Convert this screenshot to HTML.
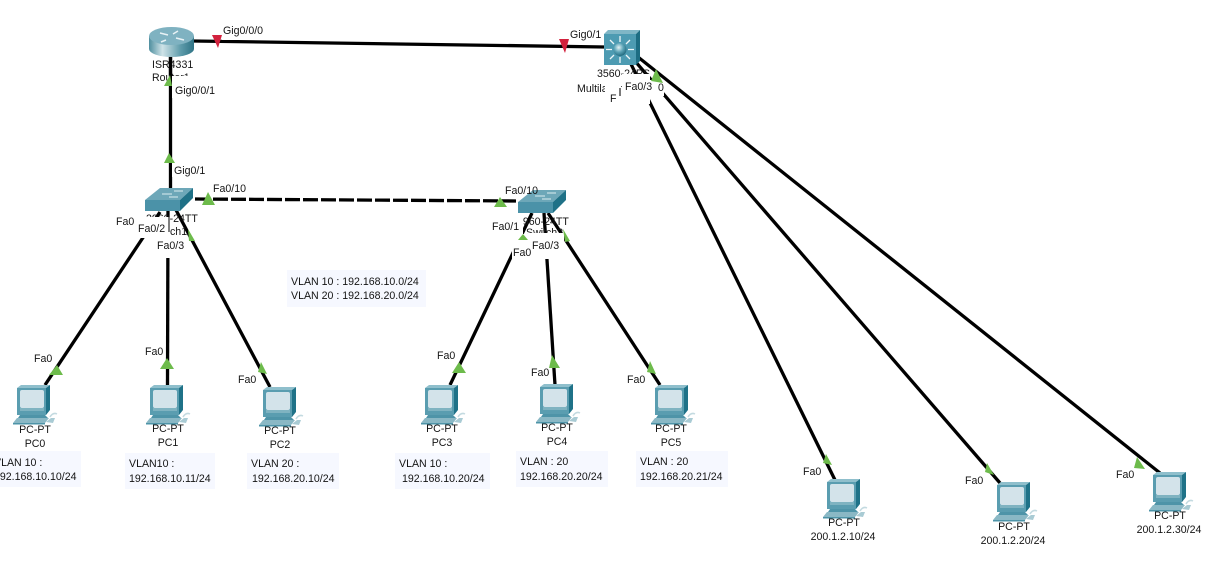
<!DOCTYPE html>
<html>
<head>
<meta charset="utf-8">
<style>
html,body{margin:0;padding:0;background:#fff;}
body{width:1221px;height:588px;overflow:hidden;}
svg{display:block;}
text{font-family:"Liberation Sans",Arial,sans-serif;font-size:10.6px;fill:#141414;}
.m{text-anchor:middle;}
.c{stroke:#000;stroke-width:3.3;fill:none;}
.g{fill:#6dbb4b;}
.r{fill:#d2213d;}
.w{fill:#fff;}
.n{fill:#f6f8ff;}
</style>
</head>
<body>
<svg width="1221" height="588" viewBox="0 0 1221 588" xmlns="http://www.w3.org/2000/svg">
<defs>
<linearGradient id="rg" x1="0" x2="1" y1="0" y2="0">
<stop offset="0" stop-color="#4f8f9f"/><stop offset=".3" stop-color="#cfe3e8"/><stop offset=".7" stop-color="#5f9cab"/><stop offset="1" stop-color="#2f7486"/>
</linearGradient>
<radialGradient id="bg" cx=".4" cy=".35" r=".7">
<stop offset="0" stop-color="#e4f2f5"/><stop offset=".5" stop-color="#5da5b8"/><stop offset="1" stop-color="#1c6479"/>
</radialGradient>
<g id="pc">
<polygon points="0,3 29,3 29,30 0,30" fill="#5a9db0"/>
<polygon points="0,3 4,0 33,0 29,3" fill="#8fbfcc"/>
<polygon points="29,3 33,0 33,25 29,30" fill="#1f7288"/>
<rect x="3" y="5" width="24" height="18" rx="2" fill="#d3e3ea"/>
<rect x="3" y="23" width="24" height="3" fill="#7fb3c1"/>
<polygon points="3,30 28,30 31,33 1,33" fill="#4e94a8"/>
<polygon points="0,33 32,33 28,38 -4,38" fill="#8ab8c5"/>
<rect x="-4" y="38" width="32" height="1.5" fill="#4e94a8"/>
<polygon points="29,37 34,33 38,33 36,38" fill="#a9cbd4"/>
<path d="M33 32 q3,-5 7,-3" stroke="#c3dae0" stroke-width="1.5" fill="none"/>
</g>
<g id="sw">
<polygon points="0,13 15,1 48,1 35,13" fill="#6da7b8"/>
<path d="M17 7h10M29 4h9M24 10h9" stroke="#dcecf0" stroke-width="1"/>
<rect x="0" y="13" width="35" height="11" fill="#4b92a8"/>
<polygon points="35,13 48,1 48,11 35,24" fill="#1f7187"/>
</g>
</defs>

<!-- connectors -->
<line class="c" x1="193" y1="41" x2="605" y2="47"/>
<line class="c" x1="170.500" y1="55" x2="170.500" y2="190"/>
<line class="c" x1="195" y1="199" x2="518" y2="201" stroke-dasharray="15 3"/>
<line class="c" x1="160" y1="212" x2="45" y2="385"/>
<line class="c" x1="168" y1="208" x2="167.500" y2="385"/>
<line class="c" x1="176" y1="210" x2="270" y2="387"/>
<line class="c" x1="532" y1="213" x2="450" y2="385"/>
<line class="c" x1="544" y1="213" x2="555" y2="385"/>
<line class="c" x1="548" y1="213" x2="660" y2="385"/>
<line class="c" x1="630" y1="62" x2="835" y2="480"/>
<line class="c" x1="634" y1="60" x2="1000" y2="483"/>
<line class="c" x1="638" y1="57" x2="1160" y2="473"/>

<!-- device labels underneath the white label boxes -->
<text x="152" y="68">ISR4331</text>
<text x="152" y="81">Router1</text>
<text x="597" y="77">3560-24PS</text>
<text x="577" y="92">Multilayer Switch0</text>
<text x="146" y="222">2960-24TT</text>
<text x="150" y="235">Switch1</text>
<text x="517" y="225">2960-24TT</text>
<text x="526" y="236">Switch2</text>

<!-- white label boxes -->
<rect class="w" x="222" y="25" width="46" height="15"/>
<rect class="w" x="172" y="76" width="45" height="22"/>
<rect class="w" x="172" y="163" width="36" height="14"/>
<rect class="w" x="212" y="182" width="36" height="14"/>
<rect class="w" x="568" y="28" width="34" height="14"/>
<rect class="w" x="146" y="217" width="24" height="21"/>
<rect class="w" x="114" y="214" width="22" height="14"/>
<rect class="w" x="137" y="222" width="33" height="16"/>
<rect class="w" x="155" y="237" width="33" height="21"/>
<rect class="w" x="503" y="183" width="37" height="14"/>
<rect class="w" x="490" y="216" width="33" height="18"/>
<rect class="w" x="512" y="234" width="20" height="28"/>
<rect class="w" x="529" y="233" width="35" height="26"/>
<rect class="w" x="605" y="84" width="16" height="20"/>
<rect class="w" x="622" y="74" width="28" height="30"/>
<rect class="w" x="650" y="80" width="14" height="16"/>
<line x1="620" y1="88" x2="620" y2="96" stroke="#222" stroke-width="1.200"/>
<line x1="169" y1="214" x2="169" y2="232" stroke="#000" stroke-width="1"/>
<line class="c" x1="170.500" y1="55" x2="170.500" y2="76"/>

<!-- devices -->
<rect x="149" y="36" width="45" height="13" fill="url(#rg)"/>
<ellipse cx="171.500" cy="49" rx="22.500" ry="8" fill="url(#rg)"/>
<ellipse cx="171.500" cy="36" rx="22.500" ry="9" fill="#7fb2c1"/>
<path d="M160 33l8 2M176 38l8 2M166 40l-5 2M178 31l-5 3" stroke="#e8f2f5" stroke-width="1.500"/>

<polygon points="604,34 608,30 640,30 636,34" fill="#7fb6c6"/>
<polygon points="636,34 640,30 640,61 636,65" fill="#1d6d83"/>
<rect x="604" y="34" width="32" height="31" fill="#4d9bb2"/>
<circle cx="620" cy="49.500" r="6.500" fill="url(#bg)"/>
<path d="M620 42v-6M620 57v6M612 49.500h-6M628 49.500h6M614 44l-4-4M626 44l4-4M614 55l-4 4M626 55l4 4" stroke="#eef6f8" stroke-width="1.300"/>

<use href="#sw" x="145" y="187"/>
<use href="#sw" x="518" y="189"/>

<use href="#pc" x="17" y="385"/>
<use href="#pc" x="150" y="385"/>
<use href="#pc" x="263" y="387"/>
<use href="#pc" x="425" y="385"/>
<use href="#pc" x="540" y="384"/>
<use href="#pc" x="655" y="385"/>
<use href="#pc" x="827" y="479"/>
<use href="#pc" x="997" y="482"/>
<use href="#pc" x="1153" y="472"/>

<!-- link markers -->
<polygon class="r" points="212,35 222,35 218,48"/>
<polygon class="r" points="559,39 569,39 565,53"/>
<polygon class="g" points="170,75 172,86 164,86"/>
<polygon class="g" points="169,153 175,163 164,163"/>
<polygon class="g" points="208,192 215,205 202,205"/>
<polygon class="g" points="188,229 195,241 189,241"/>
<polygon class="g" points="500,197 507,207 494,207"/>
<polygon class="g" points="523,234 528,240 518,240"/>
<polygon class="g" points="563,229 570,241 565,242"/>
<polygon class="g" points="656,69 663,83 651,81"/>
<polygon class="g" points="57,365 63,375 49,375"/>
<polygon class="g" points="167,358 174,369 160,369"/>
<polygon class="g" points="261,362 267,374 258,372"/>
<polygon class="g" points="459,362 466,373 452,373"/>
<polygon class="g" points="552,355 560,368 549,368"/>
<polygon class="g" points="650,361 656,374 647,372"/>
<polygon class="g" points="826,454 832,465 823,463"/>
<polygon class="g" points="987,463 994,475 985,472"/>
<polygon class="g" points="1137,457 1145,469 1134,468"/>

<!-- link labels -->
<text x="223" y="34">Gig0/0/0</text>
<text x="175" y="94">Gig0/0/1</text>
<text x="174" y="174">Gig0/1</text>
<text x="570" y="38">Gig0/1</text>
<text x="213" y="192">Fa0/10</text>
<text x="116" y="225">Fa0</text>
<text x="138" y="232">Fa0/2</text>
<text x="157" y="249">Fa0/3</text>
<text x="505" y="194">Fa0/10</text>
<text x="492" y="230">Fa0/1</text>
<text x="513" y="256">Fa0</text>
<text x="532" y="249">Fa0/3</text>
<text x="610" y="102">F</text>
<text x="625" y="90">Fa0/3</text>
<text x="658" y="91">0</text>
<text x="34" y="362">Fa0</text>
<text x="145" y="355">Fa0</text>
<text x="238" y="383">Fa0</text>
<text x="437" y="359">Fa0</text>
<text x="531" y="376">Fa0</text>
<text x="627" y="383">Fa0</text>
<text x="803" y="475">Fa0</text>
<text x="965" y="484">Fa0</text>
<text x="1116" y="478">Fa0</text>

<!-- notes -->
<rect class="n" x="287" y="270" width="139" height="37"/>
<text x="291" y="285">VLAN 10 : 192.168.10.0/24</text>
<text x="291" y="299">VLAN 20 : 192.168.20.0/24</text>

<rect class="n" x="0" y="451" width="81" height="36"/>
<text x="-6" y="466">VLAN 10 :</text>
<text x="-6" y="480">192.168.10.10/24</text>
<rect class="n" x="125" y="453" width="90" height="36"/>
<text x="129" y="467">VLAN10 :</text>
<text x="129" y="482">192.168.10.11/24</text>
<rect class="n" x="247" y="453" width="92" height="36"/>
<text x="251" y="467">VLAN 20 :</text>
<text x="252" y="482">192.168.20.10/24</text>
<rect class="n" x="395" y="453" width="95" height="36"/>
<text x="399" y="467">VLAN 10 :</text>
<text x="402" y="482">192.168.10.20/24</text>
<rect class="n" x="516" y="451" width="92" height="36"/>
<text x="520" y="465">VLAN : 20</text>
<text x="520" y="480">192.168.20.20/24</text>
<rect class="n" x="636" y="451" width="92" height="36"/>
<text x="640" y="465">VLAN : 20</text>
<text x="640" y="480">192.168.20.21/24</text>

<!-- pc labels -->
<text class="m" x="35" y="433">PC-PT</text><text class="m" x="35" y="447">PC0</text>
<text class="m" x="168" y="432">PC-PT</text><text class="m" x="168" y="446">PC1</text>
<text class="m" x="280" y="434">PC-PT</text><text class="m" x="280" y="448">PC2</text>
<text class="m" x="442" y="432">PC-PT</text><text class="m" x="442" y="446">PC3</text>
<text class="m" x="557" y="431">PC-PT</text><text class="m" x="557" y="445">PC4</text>
<text class="m" x="671" y="432">PC-PT</text><text class="m" x="671" y="446">PC5</text>
<text class="m" x="844" y="526">PC-PT</text><text class="m" x="843" y="540">200.1.2.10/24</text>
<text class="m" x="1014" y="530">PC-PT</text><text class="m" x="1013" y="544">200.1.2.20/24</text>
<text class="m" x="1170" y="519">PC-PT</text><text class="m" x="1169" y="533">200.1.2.30/24</text>
</svg>
</body>
</html>
